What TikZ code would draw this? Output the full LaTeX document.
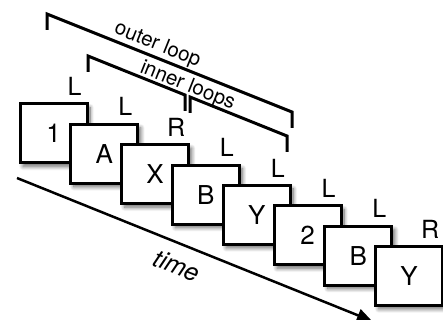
\documentclass[tikz,border=0pt]{standalone}
\usepackage{fontspec}
\setmainfont{TeX Gyre Heros}
\usetikzlibrary{shadows.blur,arrows.meta,calc}
\tikzset{
  framebox/.style={draw=black, line width=3pt, fill=white, anchor=north west,
    minimum width=67pt, minimum height=59pt, inner sep=0pt,
    font=\fontsize{26}{30}\selectfont,
    blur shadow={shadow xshift=3pt, shadow yshift=-3.5pt, shadow blur steps=10,
      shadow opacity=60, shadow blur radius=4pt}},
  dirlab/.style={inner sep=0pt, font=\fontsize{25}{30}\selectfont},
  bracket/.style={draw=black, line width=3pt, line join=miter, line cap=butt},
  looptext/.style={inner sep=0pt, rotate=-21.8, font=\fontsize{20.5}{24}\selectfont},
  timetext/.style={inner sep=0pt, rotate=-21.8, font=\fontsize{25}{30}\selectfont\itshape},
  timearrow/.style={line width=2.5pt, -{Triangle[length=15pt,width=13pt]}}
}
\begin{document}
\begin{tikzpicture}[x=1pt,y=-1pt]
\useasboundingbox (0,0) rectangle (443,320);
% time arrow
\coordinate (ts) at (17,178);
\coordinate (te) at (372,321);
\draw[timearrow] (ts) -- (te);
\node[timetext] (time) at (177,266) {time};
% frames
\foreach \i/\t/\s in {0/1/L,1/A/L,2/X/R,3/B/L,4/Y/L,5/2/L,6/B/L,7/Y/R} {
  \node[framebox] (b\i) at ({18.5+50.8*\i},{102.5+20.35*\i}) {\t};
  \node[dirlab] (l\i) at ($(b\i.north east)+(-14,-16)$) {\s};
}
% outer loop bracket
\coordinate (oa) at (47,30);
\coordinate (ob) at (47,14);
\coordinate (oc) at (292,112);
\coordinate (od) at (292,128);
\draw[bracket] (oa) -- (ob) -- (oc) -- (od);
% inner loop brackets
\coordinate (ia) at (88,72);
\coordinate (ib) at (88,56);
\coordinate (ic) at (185,95);
\coordinate (id) at (185,111);
\draw[bracket] (ia) -- (ib) -- (ic) -- (id);
\coordinate (ja) at (190,113);
\coordinate (jb) at (190,97);
\coordinate (jc) at (287,136);
\coordinate (jd) at (287,152);
\draw[bracket] (ja) -- (jb) -- (jc) -- (jd);
\node[looptext] (outer) at (157.5,45) {outer loop};
\node[looptext] (inner) at (187.5,86) {inner loops};
\end{tikzpicture}
\end{document}
